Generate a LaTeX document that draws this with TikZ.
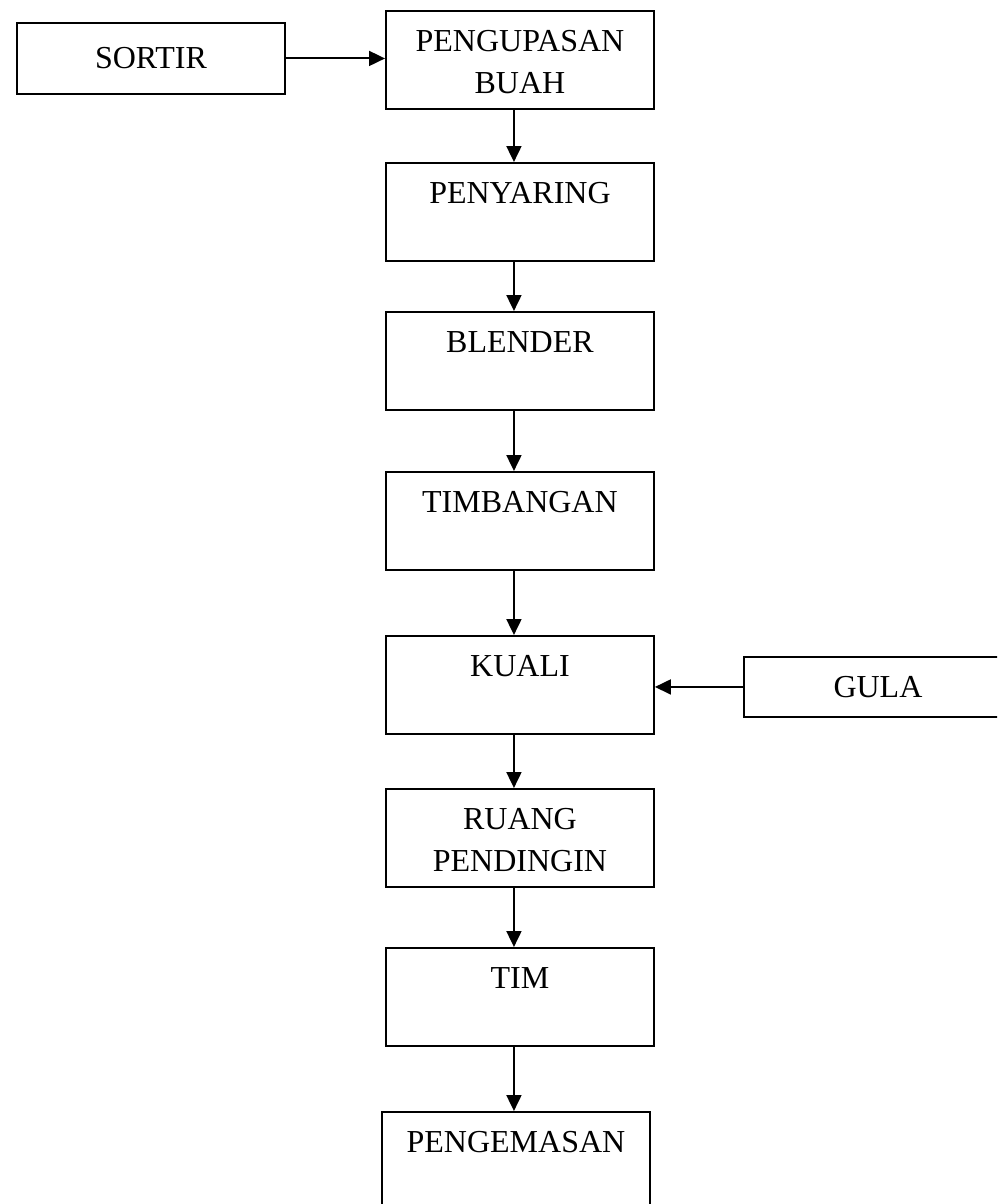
\documentclass[tikz,border=0pt]{standalone}
\usepackage{fontspec}
\setmainfont{Liberation Serif}
\usetikzlibrary{arrows.meta}
\newcommand\twoline[2]{\begin{tabular}[t]{@{}c@{}}#1\\#2\end{tabular}}
\tikzset{
  stepbox/.style={draw,line width=1.9pt,anchor=north west,minimum width=268pt,
    inner sep=0pt,text height=41pt,text depth=57pt},
  sidebox/.style={draw,line width=1.9pt,anchor=north west,minimum width=268pt,
    inner sep=0pt,minimum height=#1},
  flow/.style={line width=1.9pt,-{Triangle[length=16pt,width=15pt]}}
}

\begin{document}
\begin{tikzpicture}[font=\fontsize{32pt}{42pt}\selectfont]
\useasboundingbox (0,0) rectangle (997pt,-1204pt);
\clip (0,0) rectangle (997pt,-1204pt);
% main line
\node[stepbox] (pengupasan) at (385pt,-10pt)   {\twoline{PENGUPASAN}{BUAH}};
\node[stepbox] (penyaring)  at (385pt,-162pt)  {PENYARING};
\node[stepbox] (blender)    at (385pt,-311pt)  {BLENDER};
\node[stepbox] (timbangan)  at (385pt,-471pt)  {TIMBANGAN};
\node[stepbox] (kuali)      at (385pt,-635pt)  {KUALI};
\node[stepbox] (ruang)      at (385pt,-788pt)  {\twoline{RUANG}{PENDINGIN}};
\node[stepbox] (tim)        at (385pt,-947pt)  {TIM};
\node[stepbox] (pengemasan) at (381pt,-1111pt) {PENGEMASAN};
% side inputs
\node[sidebox=71pt] (sortir) at (16pt,-22pt)   {SORTIR};
\node[sidebox=60pt] (gula)   at (743pt,-656pt) {GULA};
% arrows
\foreach \a/\b in {pengupasan/penyaring,penyaring/blender,blender/timbangan,
                   timbangan/kuali,kuali/ruang,ruang/tim,tim/pengemasan}
  \draw[flow] ([xshift=-6pt]\a.south) -- ([xshift=-6pt]\a.south |- \b.north);
\draw[flow] (sortir.east) -- (sortir.east -| pengupasan.west);
\draw[flow] (gula.west) -- (gula.west -| kuali.east);
\end{tikzpicture}
\end{document}
